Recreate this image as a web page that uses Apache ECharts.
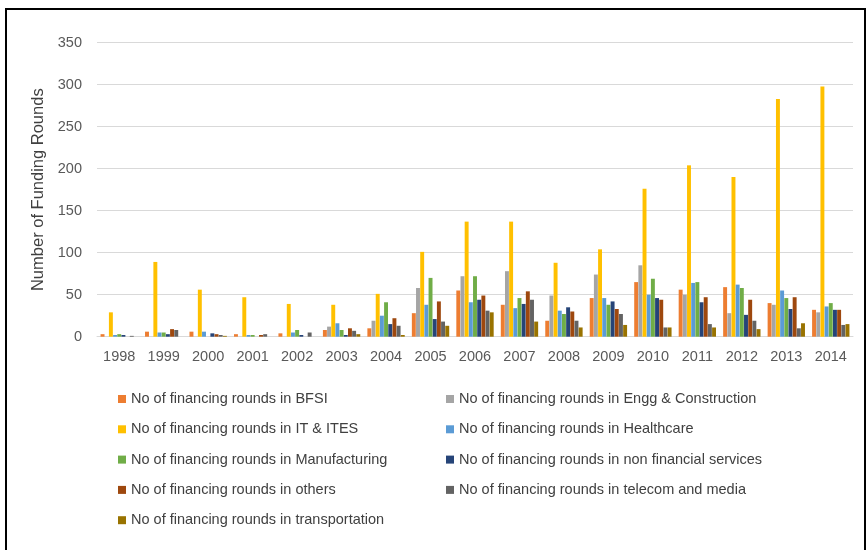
<!DOCTYPE html>
<html>
<head>
<meta charset="utf-8">
<script src="https://cdn.jsdelivr.net/npm/echarts@6/dist/echarts.min.js"></script>
<style>
  html, body { margin: 0; padding: 0; background: #fff; }
  #chart1 { width: 868px; height: 550px; }
</style>
</head>
<body>
<div id="chart1"></div>
<script>
// years on the x axis
var years = ['1998', '1999', '2000', '2001', '2002', '2003', '2004', '2005', '2006',
             '2007', '2008', '2009', '2010', '2011', '2012', '2013', '2014'];

// funding rounds per sector
var bfsi          = [3, 6, 6, 3, 4, 8, 10, 28, 55, 38, 19, 46, 65, 56, 59, 40, 32];
var enggConstr    = [0, 0, 0, 0, 0, 12, 19, 58, 72, 78, 49, 74, 85, 50, 28, 38, 29];
var itItes        = [29, 89, 56, 47, 39, 38, 51, 101, 137, 137, 88, 104, 176, 204, 190, 283, 298];
var healthcare    = [2, 5, 6, 2, 5, 16, 25, 38, 41, 34, 31, 46, 50, 64, 62, 55, 36];
var manufacturing = [3, 5, 0, 2, 8, 8, 41, 70, 72, 46, 27, 38, 69, 65, 58, 46, 40];
var nonFinancial  = [2, 3, 4, 0, 2, 2, 15, 21, 44, 39, 35, 42, 46, 41, 26, 33, 32];
var others        = [0, 9, 3, 2, 0, 10, 22, 42, 49, 54, 30, 33, 44, 47, 44, 47, 32];
var telecomMedia  = [1, 8, 2, 3, 5, 7, 13, 18, 31, 44, 19, 27, 11, 15, 19, 10, 14];
var transport     = [0, 0, 1, 0, 0, 3, 2, 13, 29, 18, 11, 14, 11, 11, 9, 16, 15];

var yTicks = { min: 0, max: 350, interval: 50 };

var names = [
  'No of financing rounds in BFSI',
  'No of financing rounds in Engg & Construction',
  'No of financing rounds in IT & ITES',
  'No of financing rounds in Healthcare',
  'No of financing rounds in Manufacturing',
  'No of financing rounds in non financial services',
  'No of financing rounds in others',
  'No of financing rounds in telecom and media',
  'No of financing rounds in transportation'
];
var values = [bfsi, enggConstr, itItes, healthcare, manufacturing, nonFinancial, others, telecomMedia, transport];
var colors = ['#ED7D31', '#A5A5A5', '#FFC000', '#5B9BD5', '#70AD47', '#264478', '#9E480E', '#636363', '#997300'];

var font = 'Liberation Sans';
var textGrey = '#595959';
var textDark = '#404040';

var series = names.map(function (n, i) {
  return {
    name: n,
    type: 'bar',
    data: values[i],
    barGap: '6%',
    barCategoryGap: '16%',
    itemStyle: { color: colors[i] }
  };
});

var legendText = { color: textDark, fontSize: 14.5, fontFamily: font, lineHeight: 16 };

var myChart = echarts.init(document.getElementById('chart1'));
myChart.setOption({
  animation: false,
  color: colors,
  graphic: [{
    type: 'rect',
    shape: { x: 6, y: 9, width: 859, height: 600 },
    style: { fill: 'none', stroke: '#000', lineWidth: 2 }
  }],
  grid: { left: 97, right: 15, top: 42.7, bottom: 213.3 },
  legend: [{
    orient: 'vertical',
    left: 113,
    top: 386,
    itemWidth: 8,
    itemHeight: 8,
    itemGap: 14.3,
    icon: 'rect',
    textStyle: legendText,
    data: [names[0], names[2], names[4], names[6], names[8]]
  }, {
    orient: 'vertical',
    left: 441,
    top: 386,
    itemWidth: 8,
    itemHeight: 8,
    itemGap: 14.3,
    icon: 'rect',
    textStyle: legendText,
    data: [names[1], names[3], names[5], names[7]]
  }],
  xAxis: {
    type: 'category',
    data: years,
    axisTick: { show: false },
    axisLine: { lineStyle: { color: '#D9D9D9', width: 1 } },
    axisLabel: { color: textGrey, fontSize: 14.5, fontFamily: font, margin: 13 }
  },
  yAxis: {
    type: 'value',
    min: yTicks.min,
    max: yTicks.max,
    interval: yTicks.interval,
    name: 'Number of Funding Rounds',
    nameLocation: 'middle',
    nameRotate: 90,
    nameGap: 48,
    nameTextStyle: { color: textDark, fontSize: 16.5, fontFamily: font },
    axisLine: { show: false },
    axisTick: { show: false },
    splitLine: { lineStyle: { color: '#D9D9D9', width: 1 } },
    axisLabel: { color: textGrey, fontSize: 14.5, fontFamily: font, margin: 15 }
  },
  series: series
});
</script>
</body>
</html>
